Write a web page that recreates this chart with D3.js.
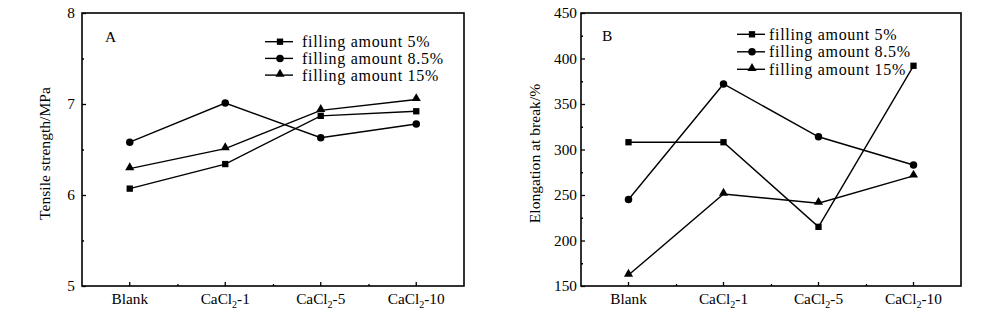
<!DOCTYPE html>
<html>
<head>
<meta charset="utf-8">
<script src="https://cdn.jsdelivr.net/npm/d3@7"></script>
<style>
  html, body { margin: 0; padding: 0; background: #fff; }
  svg { display: block; font-family: "Liberation Serif", "Times New Roman", serif; }
</style>
</head>
<body>
<svg id="chart" width="1000" height="328"></svg>
<script>
// ---- data ----
const categories = ["Blank", "CaCl2-1", "CaCl2-5", "CaCl2-10"];
const seriesNames = ["filling amount 5%", "filling amount 8.5%", "filling amount 15%"];
const markerTypes = ["square", "circle", "triangle"];

const tensile5 = [6.07, 6.34, 6.87, 6.92];
const tensile85 = [6.58, 7.01, 6.63, 6.78];
const tensile15 = [6.29, 6.51, 6.93, 7.05];

const elong5 = [308, 308, 215, 392];
const elong85 = [245, 372, 314, 283];
const elong15 = [162, 251, 241, 271];

const yTicksA = [5, 6, 7, 8];
const yMinorA = [5.5, 6.5, 7.5];
const yTicksB = [150, 200, 250, 300, 350, 400, 450];
const yMinorB = [175, 225, 275, 325, 375, 425];

// ---- layout ----
const panels = [
  { letter: "A", ylabel: "Tensile strength/MPa", series: [tensile5, tensile85, tensile15],
    domain: [5, 8], ticks: yTicksA, minor: yMinorA,
    left: 82, right: 464, top: 13, bottom: 286, tickPad: 7, ylabelX: 45,
    legX: 265, legY: 41.7, legStep: 16.7, legText: 37, letterX: 105, letterY: 42 },
  { letter: "B", ylabel: "Elongation at break/%", series: [elong5, elong85, elong15],
    domain: [150, 450], ticks: yTicksB, minor: yMinorB,
    left: 581, right: 961, top: 13, bottom: 286, tickPad: 4, ylabelX: 535,
    legX: 737, legY: 34.3, legStep: 17.5, legText: 32, letterX: 602, letterY: 41 }
];

const svg = d3.select("#chart");
const symbolMap = { square: d3.symbolSquare, circle: d3.symbolCircle, triangle: d3.symbolTriangle };
const symbolSize = { square: 40, circle: 44, triangle: 36 };
const FONT = "Liberation Serif, Times New Roman, serif";

function setCatLabel(sel) {
  sel.each(function(d) {
    const t = d3.select(this);
    t.text(null);
    const m = /^CaCl2(.*)$/.exec(d);
    if (m) {
      t.append("tspan").text("CaCl");
      t.append("tspan").attr("font-size", 10).attr("dy", 4).text("2");
      t.append("tspan").attr("dy", -4).text(m[1]);
    } else {
      t.text(d);
    }
  });
}

panels.forEach(p => {
  const g = svg.append("g");
  const x = d3.scaleBand().domain(categories).range([p.left, p.right]);
  const xm = d3.scaleLinear().domain([0, categories.length]).range([p.left, p.right]);
  const y = d3.scaleLinear().domain(p.domain).range([p.bottom, p.top]);
  const cx = d => x(d) + x.bandwidth() / 2;

  // x axis majors
  const xa = g.append("g").attr("transform", `translate(0,${p.bottom})`)
    .call(d3.axisBottom(x).tickSize(-4).tickSizeOuter(0));
  xa.select(".domain").remove();
  xa.selectAll("line").attr("stroke", "#000").attr("stroke-width", 1.3);
  xa.selectAll("text").attr("y", 18).attr("dy", "0").attr("font-size", 15.3)
    .attr("fill", "#000").attr("font-family", FONT)
    .call(setCatLabel);
  // x axis minors
  const xmin = g.append("g").attr("transform", `translate(0,${p.bottom})`)
    .call(d3.axisBottom(xm).tickValues(d3.range(1, categories.length)).tickSize(-2).tickFormat(""));
  xmin.select(".domain").remove();
  xmin.selectAll("line").attr("stroke", "#000").attr("stroke-width", 1.3);

  // y axis
  const ya = g.append("g").attr("transform", `translate(${p.left},0)`)
    .call(d3.axisLeft(y).tickValues(p.ticks).tickSize(-4).tickPadding(p.tickPad).tickFormat(d3.format("d")));
  ya.select(".domain").remove();
  ya.selectAll("line").attr("stroke", "#000").attr("stroke-width", 1.3);
  ya.selectAll("text").attr("font-size", 15.3).attr("fill", "#000").attr("font-family", FONT);
  const ymin = g.append("g").attr("transform", `translate(${p.left},0)`)
    .call(d3.axisLeft(y).tickValues(p.minor).tickSize(-2).tickFormat(""));
  ymin.select(".domain").remove();
  ymin.selectAll("line").attr("stroke", "#000").attr("stroke-width", 1.3);

  // frame
  g.append("rect").attr("x", p.left).attr("y", p.top)
    .attr("width", p.right - p.left).attr("height", p.bottom - p.top)
    .attr("fill", "none").attr("stroke", "#000").attr("stroke-width", 1.6);

  // y label
  g.append("text")
    .attr("transform", `translate(${p.ylabelX},${(p.top + p.bottom) / 2 + 4}) rotate(-90)`)
    .attr("text-anchor", "middle").attr("dy", "0.35em").attr("font-size", 15.6)
    .text(p.ylabel);

  // panel letter
  g.append("text").attr("x", p.letterX).attr("y", p.letterY).attr("font-size", 15.5).text(p.letter);

  // series
  const line = d3.line().x((d, i) => cx(categories[i])).y(d => y(d));
  p.series.forEach((vals, si) => {
    g.append("path").datum(vals).attr("d", line)
      .attr("fill", "none").attr("stroke", "#000").attr("stroke-width", 1.4);
    const mt = markerTypes[si];
    g.selectAll(null).data(vals).enter().append("path")
      .attr("d", d3.symbol().type(symbolMap[mt]).size(symbolSize[mt]))
      .attr("transform", (d, i) => `translate(${cx(categories[i])},${y(d) + (mt === "triangle" ? -1 : 0)})`)
      .attr("fill", "#000");
  });

  // legend
  seriesNames.forEach((name, si) => {
    const ly = p.legY + si * p.legStep;
    g.append("line").attr("x1", p.legX).attr("x2", p.legX + 28).attr("y1", ly).attr("y2", ly)
      .attr("stroke", "#000").attr("stroke-width", 1.4);
    const mt = markerTypes[si];
    g.append("path").attr("d", d3.symbol().type(symbolMap[mt]).size(symbolSize[mt]))
      .attr("transform", `translate(${p.legX + 15},${ly + (mt === "triangle" ? -1 : 0)})`).attr("fill", "#000");
    g.append("text").attr("x", p.legX + p.legText).attr("y", ly)
      .attr("dy", "0.35em").attr("font-size", 16).attr("letter-spacing", 0.7).text(name);
  });
});
</script>
</body>
</html>
